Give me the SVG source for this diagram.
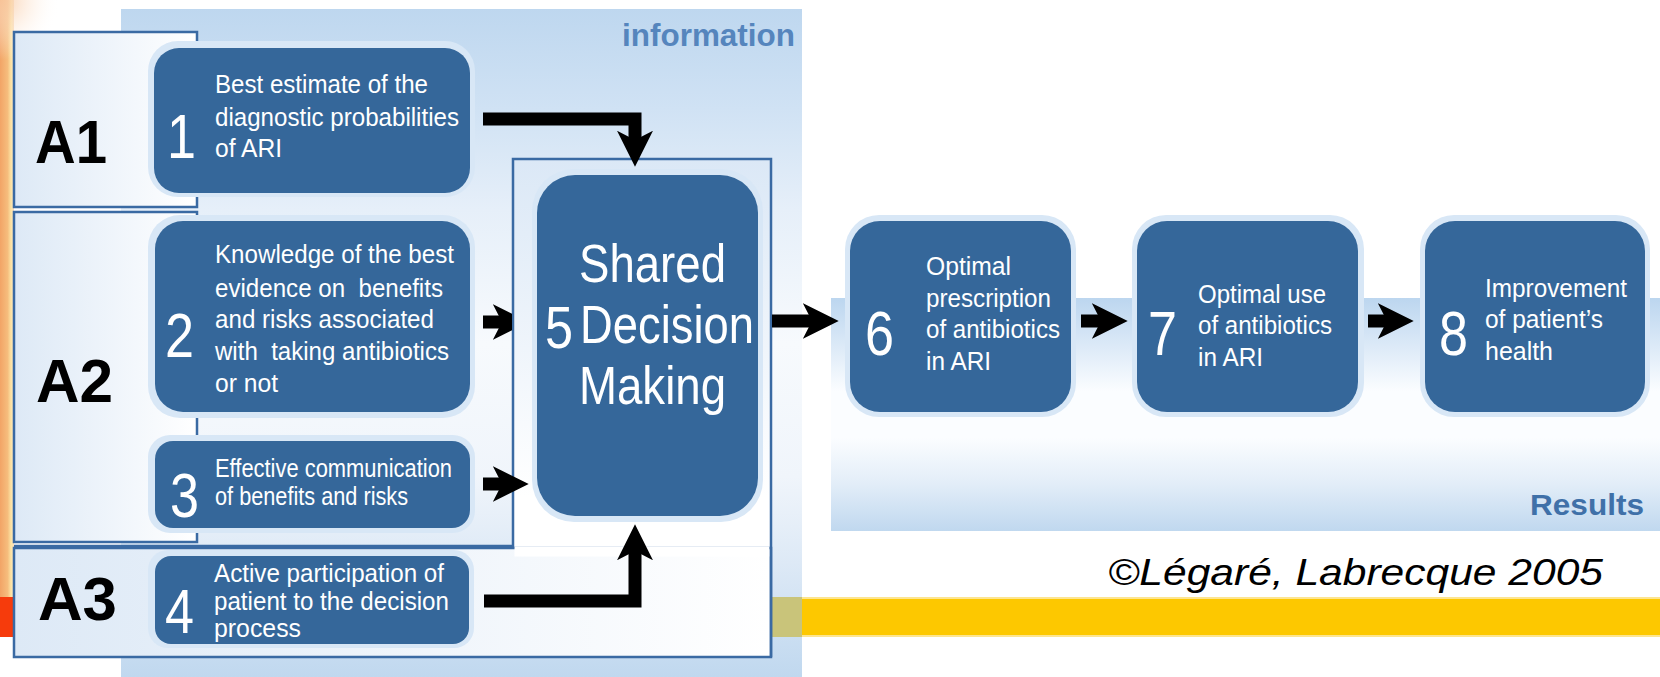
<svg xmlns="http://www.w3.org/2000/svg" width="1660" height="677" viewBox="0 0 1660 677">
<defs>
<style>
.halo{fill:#d8e7f6}
.node{fill:#35679a}
.t{font-family:"Liberation Sans",Arial,sans-serif;font-size:26px;fill:#ffffff}
.num{font-family:"Liberation Sans",Arial,sans-serif;font-size:63px;fill:#ffffff}
.big{font-family:"Liberation Sans",Arial,sans-serif;font-size:54px;fill:#ffffff}
.lab{font-family:"Liberation Sans",Arial,sans-serif;font-size:62px;font-weight:bold;fill:#000000}
.frame{stroke:#3a6aa3;stroke-width:2.5}
.conn{fill:none;stroke:#000000;stroke-width:13;stroke-linejoin:miter;marker-end:url(#ah)}
.pre{white-space:pre}
</style>
<linearGradient id="gInfo" x1="0" y1="0" x2="0" y2="1">
<stop offset="0" stop-color="#bed7ef"/>
<stop offset="0.15" stop-color="#d0e2f4"/>
<stop offset="0.3" stop-color="#e6eff9"/>
<stop offset="0.5" stop-color="#f7fafd"/>
<stop offset="0.7" stop-color="#f0f5fb"/>
<stop offset="0.83" stop-color="#dde9f6"/>
<stop offset="1" stop-color="#c0d8ef"/>
</linearGradient>
<linearGradient id="gRes" x1="0" y1="0" x2="0" y2="1">
<stop offset="0" stop-color="#bcd6ef"/>
<stop offset="0.15" stop-color="#d3e4f5"/>
<stop offset="0.4" stop-color="#fbfdff"/>
<stop offset="0.6" stop-color="#fbfdff"/>
<stop offset="0.8" stop-color="#e2edf8"/>
<stop offset="1" stop-color="#c0d8ef"/>
</linearGradient>
<linearGradient id="gFrame" x1="0" y1="0" x2="1" y2="0">
<stop offset="0" stop-color="#dde9f6"/>
<stop offset="1" stop-color="#ffffff"/>
</linearGradient>
<linearGradient id="gSdm" x1="0" y1="0" x2="0" y2="1">
<stop offset="0" stop-color="#dbe8f6"/>
<stop offset="0.85" stop-color="#ffffff"/>
<stop offset="1" stop-color="#ffffff"/>
</linearGradient>
<linearGradient id="gLeft" x1="0" y1="0" x2="1" y2="0">
<stop offset="0" stop-color="#f2a466"/>
<stop offset="0.55" stop-color="#f6bd7d"/>
<stop offset="0.8" stop-color="#fde6a6"/>
<stop offset="1" stop-color="#f8ddc0"/>
</linearGradient>
<radialGradient id="gGlow" cx="0" cy="0" r="1">
<stop offset="0" stop-color="#f8c79e" stop-opacity="0.9"/>
<stop offset="1" stop-color="#ffffff" stop-opacity="0"/>
</radialGradient>
<marker id="ah" markerUnits="userSpaceOnUse" markerWidth="36" markerHeight="36" viewBox="0 0 35 35" refX="10" refY="17.5" orient="auto">
<path d="M0,0 L35,17.5 L0,35 L9,17.5 Z" fill="#000000"/>
</marker>
<clipPath id="clipLeft"><rect x="0" y="0" width="512" height="677"/></clipPath>
</defs>

<g id="background">
<rect x="0" y="0" width="1660" height="677" fill="#ffffff"/>
<rect x="121" y="9" width="681" height="668" fill="url(#gInfo)"/>
<rect x="831" y="298" width="829" height="233" fill="url(#gRes)"/>
<rect x="772" y="597" width="888" height="40" fill="#fdc800"/>
<rect x="772" y="597" width="888" height="2" fill="#fde590"/>
<rect x="772" y="635" width="888" height="2" fill="#fde590"/>
<rect x="772" y="597" width="30" height="40" fill="#c9c47a"/>
<rect x="0" y="0" width="14" height="597" fill="url(#gLeft)"/>
<rect x="0" y="0" width="60" height="60" fill="url(#gGlow)"/>
<rect x="0" y="597" width="14" height="40" fill="#f63b0c"/>
<text x="622" y="46" textLength="173" lengthAdjust="spacingAndGlyphs" style="font-family:'Liberation Sans',Arial,sans-serif;font-size:31px;font-weight:bold;fill:#5585bd">information</text>
<text x="1530" y="515" textLength="114" lengthAdjust="spacingAndGlyphs" style="font-family:'Liberation Sans',Arial,sans-serif;font-size:30px;font-weight:bold;fill:#3f70a8">Results</text>
<text x="1108" y="585" textLength="495" lengthAdjust="spacingAndGlyphs" style="font-family:'Liberation Sans',Arial,sans-serif;font-size:36px;font-style:italic;fill:#000000">©Légaré, Labrecque 2005</text>
</g>

<g id="frames">
<rect id="frameA1" class="frame" x="14" y="32" width="183" height="175" fill="url(#gFrame)"/>
<rect id="frameA2" class="frame" x="14" y="212" width="183" height="330" fill="url(#gFrame)"/>
<rect id="frameSDM" x="513" y="159" width="258" height="398" fill="url(#gSdm)"/>
<rect id="frameA3" class="frame" x="14" y="548" width="757" height="109" fill="url(#gFrame)"/>
<rect x="514.5" y="546.5" width="255" height="10" fill="#ffffff"/>
<path class="frame" fill="none" d="M14,546 H513 V159 H771 V657"/>
</g>

<g id="A1"><text class="lab" x="35" y="163" textLength="72" lengthAdjust="spacingAndGlyphs">A1</text></g>
<g id="A2"><text class="lab" x="36" y="402" textLength="77" lengthAdjust="spacingAndGlyphs">A2</text></g>
<g id="A3"><text class="lab" x="38" y="620" textLength="79" lengthAdjust="spacingAndGlyphs">A3</text></g>

<g id="node1">
<rect class="halo" x="148" y="41" width="327" height="156" rx="30"/>
<rect class="node" x="154" y="48" width="316" height="145" rx="25"/>
<text class="num" x="167" y="158" textLength="29" lengthAdjust="spacingAndGlyphs">1</text>
<text class="t" x="215" y="93" textLength="213" lengthAdjust="spacingAndGlyphs">Best estimate of the</text>
<text class="t" x="215" y="126" textLength="244" lengthAdjust="spacingAndGlyphs">diagnostic probabilities</text>
<text class="t" x="215" y="157" textLength="67" lengthAdjust="spacingAndGlyphs">of ARI</text>
</g>

<g id="node2">
<rect class="halo" x="148" y="215" width="327" height="203" rx="32"/>
<rect class="node" x="155" y="221" width="315" height="191" rx="28"/>
<text class="num" x="165" y="357" textLength="29" lengthAdjust="spacingAndGlyphs">2</text>
<text class="t" x="215" y="263" textLength="239" lengthAdjust="spacingAndGlyphs">Knowledge of the best</text>
<text class="t pre" x="215" y="297" textLength="228" lengthAdjust="spacingAndGlyphs">evidence on  benefits</text>
<text class="t" x="215" y="328" textLength="219" lengthAdjust="spacingAndGlyphs">and risks associated</text>
<text class="t pre" x="215" y="360" textLength="234" lengthAdjust="spacingAndGlyphs">with  taking antibiotics</text>
<text class="t" x="215" y="392" textLength="63" lengthAdjust="spacingAndGlyphs">or not</text>
</g>

<g id="node3">
<rect class="halo" x="148" y="435" width="327" height="98" rx="22"/>
<rect class="node" x="155" y="441" width="315" height="87" rx="18"/>
<text class="num" x="170" y="517" textLength="29" lengthAdjust="spacingAndGlyphs">3</text>
<text class="t" x="215" y="477" textLength="237" lengthAdjust="spacingAndGlyphs">Effective communication</text>
<text class="t" x="215" y="505" textLength="193" lengthAdjust="spacingAndGlyphs">of benefits and risks</text>
</g>

<g id="node4">
<rect class="halo" x="148" y="550" width="326" height="98" rx="20"/>
<rect class="node" x="155" y="556" width="314" height="88" rx="16"/>
<text class="num" x="165" y="633" textLength="29" lengthAdjust="spacingAndGlyphs">4</text>
<text class="t" x="214" y="582" textLength="230" lengthAdjust="spacingAndGlyphs">Active participation of</text>
<text class="t" x="214" y="610" textLength="235" lengthAdjust="spacingAndGlyphs">patient to the decision</text>
<text class="t" x="214" y="637" textLength="87" lengthAdjust="spacingAndGlyphs">process</text>
</g>

<g id="node5">
<rect class="halo" x="532" y="169" width="231" height="353" rx="42"/>
<rect class="node" x="537" y="175" width="221" height="341" rx="38"/>
<text class="num" x="545" y="348" style="font-size:60px" textLength="28" lengthAdjust="spacingAndGlyphs">5</text>
<text class="big" x="579" y="282" textLength="147" lengthAdjust="spacingAndGlyphs">Shared</text>
<text class="big" x="580" y="343" textLength="174" lengthAdjust="spacingAndGlyphs">Decision</text>
<text class="big" x="579" y="404" textLength="147" lengthAdjust="spacingAndGlyphs">Making</text>
</g>

<g id="node6">
<rect class="halo" x="845" y="215" width="231" height="202" rx="34"/>
<rect class="node" x="850" y="221" width="221" height="191" rx="30"/>
<text class="num" x="865" y="355" textLength="29" lengthAdjust="spacingAndGlyphs">6</text>
<text class="t" x="926" y="275" textLength="85" lengthAdjust="spacingAndGlyphs">Optimal</text>
<text class="t" x="926" y="307" textLength="125" lengthAdjust="spacingAndGlyphs">prescription</text>
<text class="t" x="926" y="338" textLength="134" lengthAdjust="spacingAndGlyphs">of antibiotics</text>
<text class="t" x="926" y="370" textLength="65" lengthAdjust="spacingAndGlyphs">in ARI</text>
</g>

<g id="node7">
<rect class="halo" x="1132" y="215" width="232" height="202" rx="34"/>
<rect class="node" x="1137" y="221" width="221" height="191" rx="30"/>
<text class="num" x="1148" y="355" textLength="29" lengthAdjust="spacingAndGlyphs">7</text>
<text class="t" x="1198" y="303" textLength="128" lengthAdjust="spacingAndGlyphs">Optimal use</text>
<text class="t" x="1198" y="334" textLength="134" lengthAdjust="spacingAndGlyphs">of antibiotics</text>
<text class="t" x="1198" y="366" textLength="65" lengthAdjust="spacingAndGlyphs">in ARI</text>
</g>

<g id="node8">
<rect class="halo" x="1420" y="215" width="230" height="202" rx="34"/>
<rect class="node" x="1425" y="221" width="220" height="191" rx="30"/>
<text class="num" x="1439" y="355" textLength="29" lengthAdjust="spacingAndGlyphs">8</text>
<text class="t" x="1485" y="297" textLength="142" lengthAdjust="spacingAndGlyphs">Improvement</text>
<text class="t" x="1485" y="328" textLength="118" lengthAdjust="spacingAndGlyphs">of patient’s</text>
<text class="t" x="1485" y="360" textLength="68" lengthAdjust="spacingAndGlyphs">health</text>
</g>

<g id="connectors">
<path class="conn" d="M483,119 H635 V141"/>
<path class="conn" d="M483,322 H503" clip-path="url(#clipLeft)"/>
<path class="conn" d="M483,484 H503"/>
<path class="conn" d="M484,601 H635 V550"/>
<path class="conn" d="M772,321 H813"/>
<path class="conn" d="M1081,321 H1102"/>
<path class="conn" d="M1368,321 H1388"/>
</g>
</svg>
